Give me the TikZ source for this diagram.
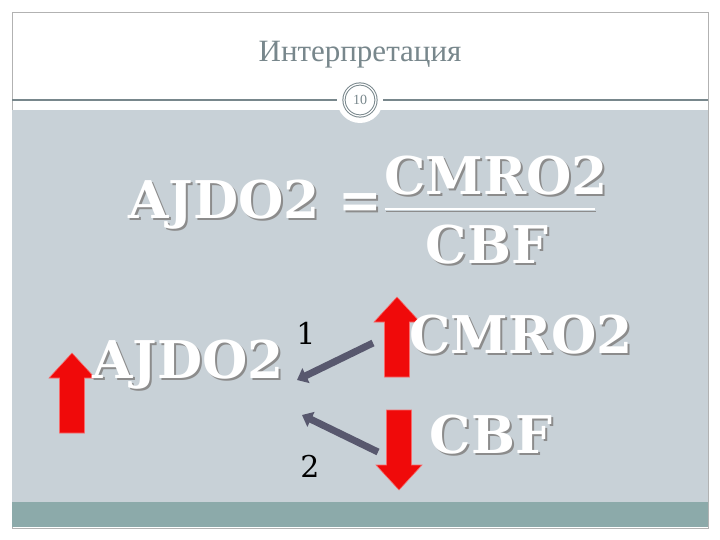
\documentclass[tikz,border=0pt]{standalone}
\usepackage{fontspec}
\setmainfont{DejaVu Serif}
\newfontfamily\titlefont{Liberation Serif}
\usetikzlibrary{arrows.meta}
\definecolor{bg}{RGB}{200,209,215}
\definecolor{band}{RGB}{140,170,170}
\definecolor{titlec}{RGB}{120,135,140}
\definecolor{arrg}{RGB}{88,88,110}
\definecolor{redc}{RGB}{240,10,10}
\tikzset{
 big/.style={text=white,font=\bfseries\fontsize{52}{56}\selectfont,inner sep=0pt},
 shad/.style={text=black!45,font=\bfseries\fontsize{52}{56}\selectfont,inner sep=0pt},
 num/.style={font=\fontsize{30}{32}\selectfont,inner sep=0pt},
 redfill/.style={fill=redc,draw=redc!60!white,line width=0.6pt},
 garr/.style={draw=arrg,line width=7pt,-{Triangle[length=10pt,width=16pt]}}
}
\begin{document}
\begin{tikzpicture}[x=1pt,y=-1pt]
\useasboundingbox (0,0) rectangle (720,540);
\fill[white] (0,0) rectangle (720,540);
\draw[black!30] (12,12) rectangle (708,528);
\fill[bg] (12,110) rectangle (708,502);
\fill[band] (12,502) rectangle (708,527);
\draw[titlec,line width=1.2pt] (12,100) -- (708,100);
\node[text=titlec,font=\titlefont\fontsize{31}{33}\selectfont] (title) at (360,55) {Интерпретация};
\node[circle,fill=white,minimum size=46pt] (cw) at (360,100) {};
\node[circle,draw=titlec,double=white,double distance=1.2pt,line width=1pt,minimum size=32pt,inner sep=0pt,font=\titlefont\fontsize{14}{14}\selectfont,text=titlec] (pg) at (360,100) {10};
% formula
\node[shad] at (257,207) {AJDO2 =};
\node[big] (lhs) at (255,205) {AJDO2 =};
\node[shad] at (498,178) {CMRO2};
\node[big] (num1) at (496,176) {CMRO2};
\node[shad] at (489,247) {CBF};
\node[big] (den1) at (487,245) {CBF};
\draw[white,line width=2pt] (385,209) -- (595,209);
\draw[black!45,line width=1pt] (386,211.5) -- (596,211.5);
% red arrows
\path[redfill] (72,353) -- (95,378) -- (84.5,378) -- (84.5,433) -- (59.5,433) -- (59.5,378) -- (49,378) -- cycle;
\path[redfill] (397,297) -- (420,322) -- (409.5,322) -- (409.5,377) -- (384.5,377) -- (384.5,322) -- (374,322) -- cycle;
\path[redfill] (399,490) -- (422,465) -- (411.5,465) -- (411.5,410) -- (386.5,410) -- (386.5,465) -- (376,465) -- cycle;
% lower texts
\node[shad] at (190,367) {AJDO2};
\node[big] (aj) at (188,365) {AJDO2};
\node[shad] at (523,337) {CMRO2};
\node[big] (cm) at (521,335) {CMRO2};
\node[shad] at (493,437) {CBF};
\node[big] (cb) at (491,435) {CBF};
\node[num] (n1) at (306,333) {1};
\node[num] (n2) at (310,466) {2};
\coordinate (a1s) at (373,343);
\coordinate (a1e) at (297,380);
\coordinate (a2s) at (378,452);
\coordinate (a2e) at (302,415);
\draw[garr] (a1s) -- (a1e);
\draw[garr] (a2s) -- (a2e);
\end{tikzpicture}
\end{document}
